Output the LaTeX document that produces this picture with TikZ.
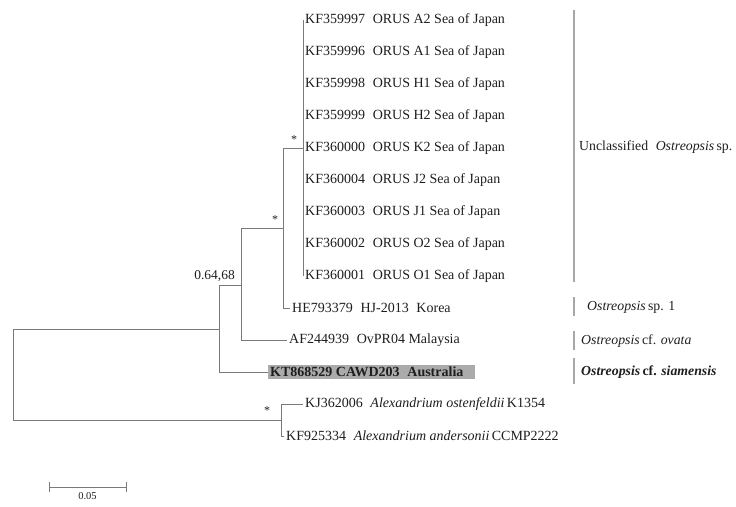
\documentclass[tikz,border=0pt]{standalone}
\usepackage{fontspec}
\setmainfont{Liberation Serif}
\usetikzlibrary{positioning,calc}

\definecolor{treegray}{HTML}{7A7A7A}
\definecolor{bargray}{HTML}{A8A8A8}
\definecolor{boxgray}{HTML}{ABABAB}
\definecolor{inkgray}{HTML}{1E1E1E}

\newcommand{\accgap}{\hspace{0.55em}}

\tikzset{
  branch/.style={draw=treegray, line width=0.9pt},
  leaf/.style={anchor=west, inner xsep=2pt, inner ysep=2.5pt, text=inkgray,
    font=\fontsize{14}{16}\selectfont},
  support/.style={inner sep=0pt, text=inkgray, font=\fontsize{12}{14}\selectfont},
  cladebar/.style={draw=bargray, line width=1.4pt},
  cladename/.style={anchor=west, inner sep=0pt, text=inkgray,
    font=\fontsize{13.8}{16}\selectfont},
}

\begin{document}
\begin{tikzpicture}[x=1pt, y=-1pt]
    \useasboundingbox (0,0) rectangle (736,506);

    % Sea of Japan isolates (zero-length branches)
    \foreach \acc/\strain [count=\i from 0] in {KF359997/A2, KF359996/A1,
        KF359998/H1, KF359999/H2, KF360000/K2, KF360004/J2, KF360003/J1,
        KF360002/O2, KF360001/O1} {
        \node[leaf] (jp\i) at (303,20+32*\i) {\acc\accgap ORUS \strain\ Sea of Japan};
    }

    % Other leaves
    \node[leaf] (he) at (290,308) {HE793379\accgap HJ-2013\accgap Korea};
    \node[leaf] (af) at (287,340) {AF244939\accgap OvPR04 Malaysia};
    \node[leaf, fill=boxgray, font=\fontsize{14}{16}\selectfont\bfseries] (kt) at (268,372)
        {KT868529 CAWD203\accgap Australia\rule{10pt}{0pt}};
    \node[leaf] (kj) at (303,404) {KJ362006\accgap\textit{Alexandrium ostenfeldii}\,K1354};
    \node[leaf] (kf) at (284,436) {KF925334\accgap\textit{Alexandrium andersonii}\,CCMP2222};

    % Internal nodes
    \coordinate (nA) at (303,148);
    \coordinate (nB) at (283,228);
    \coordinate (nC) at (241,285);
    \coordinate (nD) at (219,329);
    \coordinate (nE) at (281,420);
    \coordinate (nR) at (13,375);

    % Branches
    \draw[branch] (jp0.west) -- (jp8.west);
    \draw[branch] (nB) |- (nA);
    \draw[branch] (nB) |- (he.west);
    \draw[branch] (nC) |- (nB);
    \draw[branch] (nC) |- (af.west);
    \draw[branch] (nD) |- (nC);
    \draw[branch] (nD) |- (kt.west);
    \draw[branch] (nE) |- (kj.west);
    \draw[branch] (nE) |- (kf.west);
    \draw[branch] (nR) |- (nD);
    \draw[branch] (nR) |- (nE);

    % Node support
    \node[support] (sA) at (294,140) {*};
    \node[support] (sB) at (275,220) {*};
    \node[support] (sE) at (267,411) {*};
    \node[support, anchor=south east, font=\fontsize{13.5}{16}\selectfont] (sC) at (235,282) {0.64,68};

    % Clade bars and names
    \draw[cladebar] (574,10) -- (574,282);
    \draw[cladebar] (574,297) -- (574,316);
    \draw[cladebar] (574,331) -- (574,350);
    \draw[cladebar] (574,358) -- (574,384);
    \coordinate (bU) at (574,147);
    \coordinate (b1) at (574,307);
    \coordinate (bO) at (574,341);
    \coordinate (bS) at (574,372);
    \node[cladename, right=5pt of bU] (cU) {Unclassified\accgap\textit{Ostreopsis}\,sp.};
    \node[cladename, right=13pt of b1] (c1) {\textit{Ostreopsis}\,sp. 1};
    \node[cladename, right=7pt of bO] (cO) {\textit{Ostreopsis}\,cf. \textit{ovata}};
    \node[cladename, right=7pt of bS, font=\fontsize{13.8}{16}\selectfont\bfseries] (cS)
        {\textit{Ostreopsis}\,cf. \textit{siamensis}};

    % Scale bar
    \coordinate (s0) at (49,487);
    \coordinate (s1) at (126,487);
    \coordinate (sm) at ($(s0)!0.5!(s1)$);
    \draw[branch, line width=0.8pt] (s0) -- (s1);
    \draw[branch, line width=0.8pt] ([yshift=5pt]s0) -- ([yshift=-5pt]s0);
    \draw[branch, line width=0.8pt] ([yshift=5pt]s1) -- ([yshift=-5pt]s1);
    \node[support, font=\fontsize{10.5}{12}\selectfont, below=5pt of sm] (sl) {0.05};
\end{tikzpicture}
\end{document}
